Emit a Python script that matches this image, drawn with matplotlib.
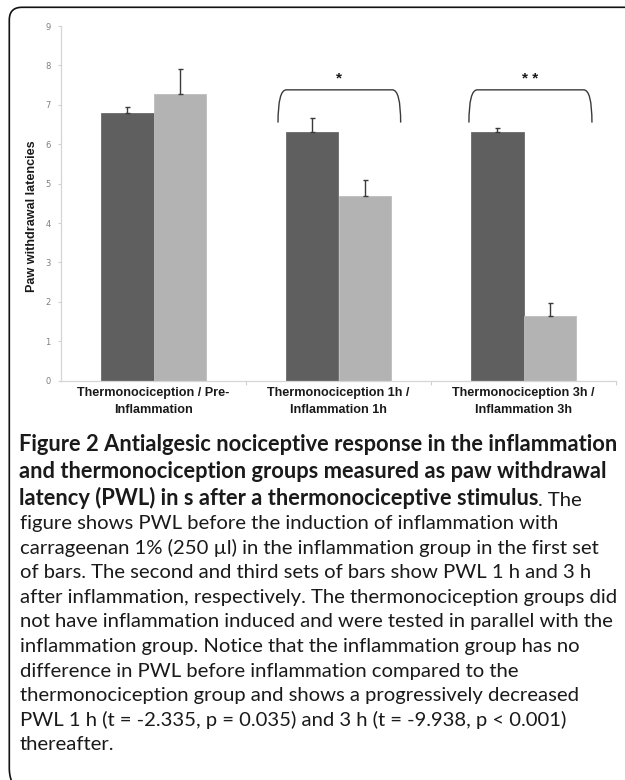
import matplotlib
matplotlib.use("Agg")
import matplotlib.pyplot as plt
from matplotlib.path import Path
from matplotlib.patches import PathPatch
from matplotlib.lines import Line2D
from matplotlib.transforms import Affine2D
import numpy as np

W, H = 625, 780

# ---- data -------------------------------------------------------------
categories = [
    "Thermonociception / Pre-\nInflammation",
    "Thermonociception 1h /\nInflammation 1h",
    "Thermonociception 3h /\nInflammation 3h",
]
thermo_mean = [6.79, 6.30, 6.31]
thermo_err = [0.16, 0.36, 0.11]
inflam_mean = [7.27, 4.68, 1.65]
inflam_err = [0.64, 0.41, 0.31]
y_ticks = list(range(0, 10))
sig_marks = ["", "*", "* *"]
y_label = "Paw withdrawal latencies"

caption_bold = [
    "Figure 2 Antialgesic nociceptive response in the inflammation",
    "and thermonociception groups measured as paw withdrawal",
    "latency (PWL) in s after a thermonociceptive stimulus",
]
caption_tail = ". The"
caption_body = [
    "figure shows PWL before the induction of inflammation with",
    "carrageenan 1% (250 \u00b5l) in the inflammation group in the first set",
    "of bars. The second and third sets of bars show PWL 1 h and 3 h",
    "after inflammation, respectively. The thermonociception groups did",
    "not have inflammation induced and were tested in parallel with the",
    "inflammation group. Notice that the inflammation group has no",
    "difference in PWL before inflammation compared to the",
    "thermonociception group and shows a progressively decreased",
    "PWL 1 h (t = -2.335, p = 0.035) and 3 h (t = -9.938, p < 0.001)",
    "thereafter.",
]

# ---- figure -----------------------------------------------------------
fig = plt.figure(figsize=(W / 100, H / 100), dpi=100)
fig.patch.set_facecolor("white")
pix = Affine2D().scale(1 / W, -1 / H).translate(0, 1) + fig.transFigure

ax_left, ax_right, ax_top, ax_bottom = 61, 616, 26, 380.7
ax = fig.add_axes([ax_left / W, 1 - ax_bottom / H,
                   (ax_right - ax_left) / W, (ax_bottom - ax_top) / H])

x = np.arange(len(categories))
bw = 0.283
dark, light = "#5f5f5f", "#b3b3b3"
ax.bar(x - bw / 2, thermo_mean, bw, color=dark, edgecolor="#6b6b6b", linewidth=0.6)
ax.bar(x + bw / 2, inflam_mean, bw, color=light, edgecolor="#bdbdbd", linewidth=0.6)
for xs, m, e in ((x - bw / 2, thermo_mean, thermo_err), (x + bw / 2, inflam_mean, inflam_err)):
    ax.errorbar(xs, m, yerr=[np.zeros(len(m)), e], fmt="none", ecolor="#3a3a3a",
                elinewidth=1.0, capsize=1.8, capthick=1.0)

ax.set_xlim(-0.5, 2.5)
ax.set_ylim(0, 9)
ax.set_yticks(y_ticks)
ax.set_yticklabels([str(v) for v in y_ticks])
ax.tick_params(axis="y", direction="out", length=2.5, width=0.8, color="#d0d0d0",
               labelsize=6, labelcolor="#7f7f7f", pad=5)
ax.set_xticks(x)
ax.set_xticklabels(categories, fontfamily="Liberation Sans", fontweight="bold",
                   fontsize=9.1, color="#1a1a1a", linespacing=1.55)
ax.tick_params(axis="x", which="major", length=0, pad=4.5)
ax.set_xticks([0.5, 1.5, 2.5], minor=True)
ax.tick_params(axis="x", which="minor", direction="out", length=3, width=0.8, color="#d0d0d0")
for s in ("top", "right"):
    ax.spines[s].set_visible(False)
for s in ("left", "bottom"):
    ax.spines[s].set_color("#d6d6d6")
    ax.spines[s].set_linewidth(0.9)

ax.set_ylabel(y_label, fontfamily="Liberation Sans", fontweight="bold", fontsize=9.1,
              color="#1a1a1a")
ax.yaxis.set_label_coords((38 - ax_left) / (ax_right - ax_left),
                          (ax_bottom - 216) / (ax_bottom - ax_top))

# significance brackets
bracket_spans = [None, (0.673, 1.336), (1.705, 2.370)]
y_top, y_bot, dx = 7.38, 6.55, 0.045
for span, mark in zip(bracket_spans, sig_marks):
    if span is None:
        continue
    x0, x1 = span
    verts = [(x0, y_bot), (x0, y_top), (x0 + dx, y_top),
             (x1 - dx, y_top),
             (x1, y_top), (x1, y_bot)]
    codes = [Path.MOVETO, Path.CURVE3, Path.CURVE3, Path.LINETO, Path.CURVE3, Path.CURVE3]
    ax.add_patch(PathPatch(Path(verts, codes), fill=False, edgecolor="#3a3a3a",
                           linewidth=1.0, clip_on=False))
    ax.text((x0 + x1) / 2, 7.56, mark, ha="center", va="baseline",
            fontfamily="Liberation Sans", fontweight="bold", fontsize=11, color="#1a1a1a")

# ---- caption ------------------------------------------------------------
renderer = fig.canvas.get_renderer()
cap_font = "Lato"


def fit_size(lines, family, weight, target_px):
    t = fig.text(0, 0, "", fontsize=12, fontfamily=family, fontweight=weight)
    widest = 0
    for ln in lines:
        t.set_text(ln)
        widest = max(widest, t.get_window_extent(renderer).width)
    t.remove()
    return 12 * target_px / widest


cap_x = 19
bold_size = fit_size(caption_bold[:1], cap_font, "bold", 594)
body_size = fit_size([caption_body[4]], cap_font, "normal", 592)

bold_base = [451, 478, 505]
tail = None
for ln, yb in zip(caption_bold, bold_base):
    tail = fig.text(cap_x, yb, ln, transform=pix, fontfamily=cap_font, fontweight="bold",
                    fontsize=bold_size, color="#1a1a1a", va="baseline", ha="left")
fig.draw_without_rendering()
ax.annotate(caption_tail, xy=(1, 0), xycoords=tail, xytext=(0, 0), textcoords="offset points",
            fontfamily=cap_font, fontsize=body_size, color="#1a1a1a",
            va="bottom", ha="left", annotation_clip=False)

body_start, body_step = 529, 24.6
for i, ln in enumerate(caption_body):
    fig.text(cap_x + 1, body_start + i * body_step, ln, transform=pix, fontfamily=cap_font,
             fontsize=body_size, color="#1a1a1a", va="baseline", ha="left")

# ---- frame (open on the right, rounded at the top-left) -------------------
def quad(p0, c, p1, n=12):
    t = np.linspace(0, 1, n)[:, None]
    return (1 - t) ** 2 * np.array(p0) + 2 * (1 - t) * t * np.array(c) + t ** 2 * np.array(p1)


pts = np.vstack([
    [[640, 7.3]],
    quad((22, 7.3), (9.3, 7.3), (9.3, 20)),
    quad((9.3, 768), (9.3, 776), (12, 782)),
])
fig.add_artist(Line2D(pts[:, 0], pts[:, 1], transform=pix, color="#111111",
                      linewidth=1.2, solid_capstyle="butt"))

fig.savefig("out.png", dpi=100, facecolor="white")
